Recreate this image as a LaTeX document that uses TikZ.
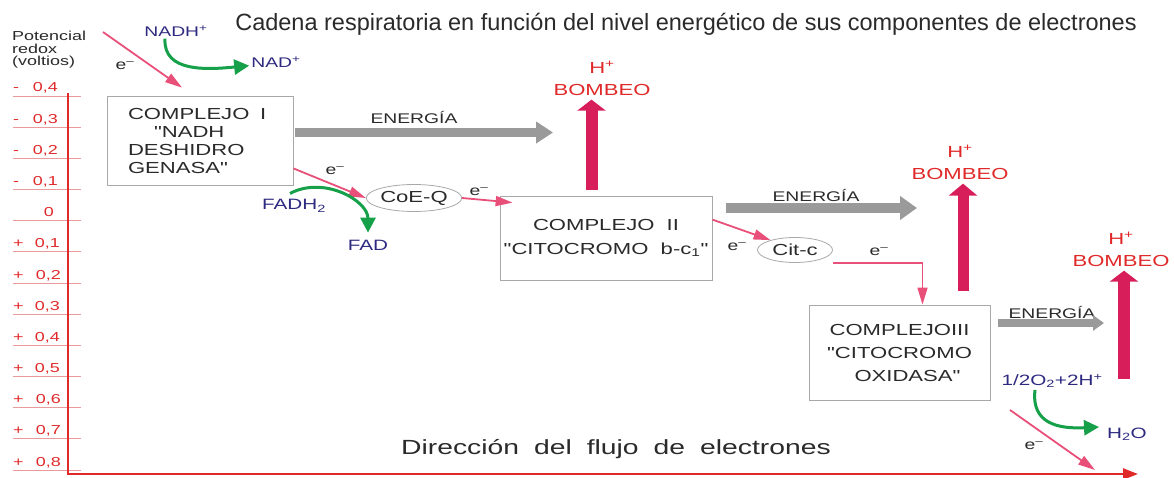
\documentclass[tikz,border=0pt]{standalone}
\usepackage{fontspec}
\setmainfont{Liberation Sans}[FakeStretch=1.38,Ligatures=TeXOff]
\newfontfamily\titlefont{Liberation Sans}
\usetikzlibrary{arrows.meta,calc,shapes.geometric}

\definecolor{redA}{HTML}{E02A2A}
\definecolor{tickA}{HTML}{EA9A9A}
\definecolor{pinkE}{HTML}{E8507A}
\definecolor{greenR}{HTML}{16A04A}
\definecolor{grayE}{HTML}{9A9A9A}
\definecolor{crimsonB}{HTML}{D81E5A}
\definecolor{navyS}{HTML}{2E2A80}
\definecolor{boxgray}{HTML}{A8A8A8}
\definecolor{txt}{HTML}{2A2A2A}

\begin{document}
\begin{tikzpicture}[x=1pt,y=-1pt,
  lbl/.style={inner sep=1pt,text=txt,font=\fontsize{14}{16}\selectfont},
  complejo/.style={draw=boxgray,line width=0.8pt,inner sep=0pt,text=txt,
    font=\fontsize{16}{18}\selectfont},
  cofactor/.style={ellipse,draw=boxgray,line width=0.8pt,inner sep=0pt,text=txt,
    font=\fontsize{16}{18}\selectfont},
  subst/.style={text=navyS,inner sep=1pt},
  proton/.style={text=redA,align=center,inner sep=0pt,
    font=\fontsize{16}{22}\selectfont},
  eflow/.style={draw=pinkE,line width=1.8pt,-{Triangle[length=17pt,width=10pt]}},
  redox/.style={draw=greenR,line width=3pt,-{Triangle[length=15pt,width=15pt]}},
  energia/.style={draw=grayE,line width=9pt,-{Triangle[length=17pt,width=21pt]}},
  bombeo/.style={draw=crimsonB,line width=12pt,-{Triangle[length=11pt,width=28pt]}}]

\useasboundingbox (0,0) rectangle (1174,478);

% titles
\node[text=txt,font=\titlefont\fontsize{23.5}{26}\selectfont] (title) at (686,24)
  {Cadena respiratoria en función del nivel energético de sus componentes de electrones};
\node[anchor=north west,align=left,inner sep=0pt,text=txt,
  font=\fontsize{13}{12.5}\selectfont] (ylabel) at (12,31) {Potencial\\redox\\(voltios)};
\node[text=txt,font=\fontsize{20.5}{22}\selectfont] (flujo) at (616,449)
  {Dirección\hspace{15pt}del\hspace{15pt}flujo\hspace{15pt}de\hspace{15pt}electrones};

% redox scale
\foreach \s/\v/\x [count=\i from 0] in {-/{0,4}/58,-/{0,3}/58,-/{0,2}/58,-/{0,1}/58,{}/0/54,
  +/{0,1}/60,+/{0,2}/61,+/{0,3}/60,+/{0,4}/60,+/{0,5}/60,+/{0,6}/61,+/{0,7}/61,+/{0,8}/61}{
  \pgfmathsetmacro\yy{96+31.17*\i}
  \draw[tickA,line width=0.8pt] (13,\yy) -- (81,\yy);
  \node[anchor=base west,inner sep=0pt,text=redA,font=\fontsize{13}{14}\selectfont]
    at (13,\yy-4) {\s};
  \node[anchor=base east,inner sep=0pt,text=redA,font=\fontsize{13}{14}\selectfont]
    at (\x,\yy-4) {\v};
}
\coordinate (ytop) at (68,93);
\coordinate (orig) at (68,474);
\coordinate (xend) at (1138,474);
\draw[redA,line width=2.5pt,-{Triangle[length=15pt,width=11pt]}] (ytop) -- (orig) -- (xend);

% complexes and carriers
\node[complejo,minimum width=186pt,minimum height=89pt,text width=144pt,align=left]
  (c_I) at (200,140.5) {COMPLEJO\ \ I\\\hspace*{26pt}"NADH\\DESHIDRO\\GENASA"};
\node[complejo,minimum width=212pt,minimum height=84pt,align=center,
  font=\fontsize{16}{24}\selectfont]
  (c_II) at (606,238) {COMPLEJO\ \ II\\"CITOCROMO\ \ b-c\textsubscript{1}"};
\node[complejo,minimum width=181pt,minimum height=95pt,align=center,
  font=\fontsize{16}{23}\selectfont]
  (c_III) at (899.5,352.5) {COMPLEJOIII\\"CITOCROMO\\\hspace*{16pt}OXIDASA"};
\node[cofactor,minimum width=84pt,minimum height=27pt] (coeq) at (414,198) {CoE-Q};
\node[cofactor,minimum width=75pt,minimum height=25pt] (citc) at (795,250) {Cit-c};

% substrates
\node[subst,font=\fontsize{14}{16}\selectfont] (nadh) at (176,31) {NADH\textsuperscript{+}};
\node[subst,font=\fontsize{14}{16}\selectfont] (nad) at (276,62) {NAD\textsuperscript{+}};
\node[subst,font=\fontsize{15}{16}\selectfont] (fadh) at (294,206) {FADH\textsubscript{2}};
\node[subst,font=\fontsize{15}{16}\selectfont] (fad) at (368,245) {FAD};
\node[subst,font=\fontsize{15}{16}\selectfont] (o2) at (1052,381) {1/2O\textsubscript{2}+2H\textsuperscript{+}};
\node[subst,font=\fontsize{15}{16}\selectfont] (h2o) at (1127,434) {H\textsubscript{2}O};

% electrons
\node[lbl] (e_1) at (125,66) {e\textsuperscript{–}};
\node[lbl] (e_2) at (335,171) {e\textsuperscript{–}};
\node[lbl] (e_3) at (479,192) {e\textsuperscript{–}};
\node[lbl] (e_4) at (737,247) {e\textsuperscript{–}};
\node[lbl] (e_5) at (879,252) {e\textsuperscript{–}};
\node[lbl] (e_6) at (1034,446) {e\textsuperscript{–}};

% energy and proton pumping
\node[lbl] (en_1) at (414,118) {ENERGÍA};
\node[lbl] (en_2) at (816,195) {ENERGÍA};
\node[lbl] (en_3) at (1052,312) {ENERGÍA};
\node[proton] (h_1) at (602,78) {H\textsuperscript{+}\\BOMBEO};
\node[proton] (h_2) at (960,162) {H\textsuperscript{+}\\BOMBEO};
\node[proton] (h_3) at (1121,249) {H\textsuperscript{+}\\BOMBEO};

\coordinate (ein) at (103,32);
\coordinate (e6a) at (1010,410);
\coordinate (e6b) at (1095,470);
\coordinate (en1) at (553,132.5);
\coordinate (en2) at (917,208);
\coordinate (en3) at (1104,323);
\coordinate (b1) at (591.5,190);
\coordinate (b2) at (963,291);
\coordinate (b3) at (1124,379);

\draw[eflow] (ein) -- ($(c_I.north)+(-18,-8)$);
\draw[eflow] ($(c_I.south east)+(0,-17)$) -- (coeq.west);
\draw[eflow] (coeq.east) -- ($(c_II.north west)+(13,7)$);
\draw[eflow] ($(c_II.north east)+(0,24)$) -- (citc.158);
\draw[eflow] (e6a) -- (e6b);
\draw[eflow,line width=1.5pt] (citc.east |- citc.south) -| ($(c_III.north)+(23,0)$);

\draw[redox] ($(nadh.south)+(-11,1)$) .. controls +(-2,34) and +(-42,4) .. ($(nad.south west)+(-1,-3)$);
\draw[redox] ($(fadh.north)+(-4,-5)$) .. controls +(34,-18) and +(0,-32) .. ($(fad.north)+(0,-6)$);
\draw[redox] ($(o2.south)+(-17,1)$) .. controls +(-4,34) and +(-40,2) .. ($(h2o.west)+(-7,-7)$);

\draw[energia] ($(c_I.east)+(2,-8)$) -- (en1);
\draw[energia,line width=10pt,-{Triangle[length=17pt,width=23pt]}] ($(c_II.east)+(14,-30)$) -- (en2);
\draw[energia,line width=8pt,-{Triangle[length=11pt,width=15pt]}] ($(c_III.east)+(8,-29.5)$) -- (en3);

\draw[bombeo] (b1) -- ($(b1 |- h_1.south)+(0,4)$);
\draw[bombeo,line width=11pt,-{Triangle[length=12pt,width=28pt]}] (b2) -- ($(b2 |- h_2.south)+(0,4)$);
\draw[bombeo] (b3) -- ($(b3 |- h_3.south)+(0,4)$);
\end{tikzpicture}
\end{document}
